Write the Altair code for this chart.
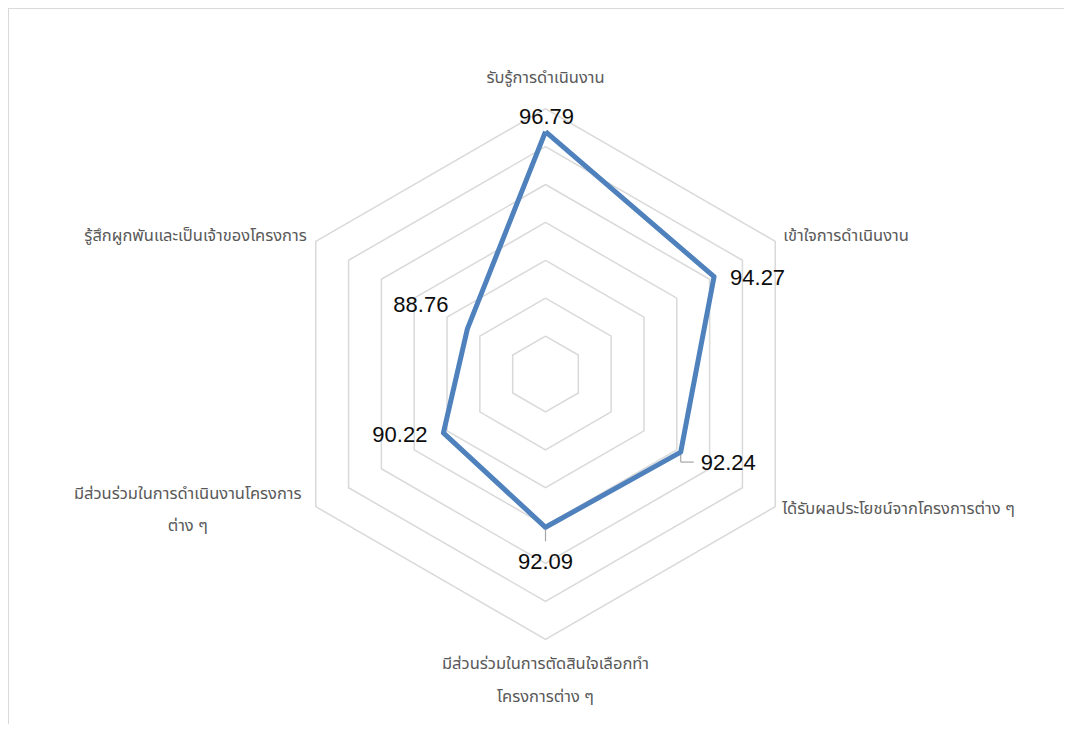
import altair as alt
import pandas as pd

# ---- data ----
categories = [
    "รับรู้การดำเนินงาน",
    "เข้าใจการดำเนินงาน",
    "ได้รับผลประโยชน์จากโครงการต่าง ๆ",
    "มีส่วนร่วมในการตัดสินใจเลือกทำ|โครงการต่าง ๆ",
    "มีส่วนร่วมในการดำเนินงานโครงการ|ต่าง ๆ",
    "รู้สึกผูกพันและเป็นเจ้าของโครงการ",
]
values = [96.79, 94.27, 92.24, 92.09, 90.22, 88.76]
value_labels = ["96.79", "94.27", "92.24", "92.09", "90.22", "88.76"]
axis_min = 84
axis_max = 98
ring_levels = [86, 88, 90, 92, 94, 96, 98]

# ---- layout ----
W, H = 1056, 716
PX = 18.95            # pixels per value unit
CX, CY = 537.5, 366.0  # centre of the radar inside the plot area
xdom = [-CX / PX, (W - CX) / PX]
ydom = [-(H - CY) / PX, CY / PX]

n = len(categories)
THAI = "Noto Sans Thai, Tahoma, Leelawadee UI, Noto Sans, DejaVu Sans, sans-serif"
NUM = "Liberation Sans, Arial, sans-serif"

series = pd.DataFrame({
    "idx": list(range(n)) + [n],
    "value": values + [values[0]],
    "label": value_labels + [value_labels[0]],
})
cats = pd.DataFrame({"idx": list(range(n)), "category": categories})
rings = pd.DataFrame([{"level": l, "k": k} for l in ring_levels for k in range(n + 1)])

xs = alt.Scale(domain=xdom, nice=False, zero=False)
ys = alt.Scale(domain=ydom, nice=False, zero=False)


def X(f="x"):
    return alt.X(f"{f}:Q", scale=xs, axis=None)


def Y(f="y"):
    return alt.Y(f"{f}:Q", scale=ys, axis=None)


ang = f"datum.idx * 2 * PI / {n}"

base_series = alt.Chart(series).transform_calculate(
    r=f"datum.value - {axis_min}"
).transform_calculate(
    x=f"datum.r * sin({ang})", y=f"datum.r * cos({ang})"
)

ring_layer = alt.Chart(rings).transform_calculate(
    r=f"datum.level - {axis_min}", idx="datum.k"
).transform_calculate(
    x=f"datum.r * sin({ang})", y=f"datum.r * cos({ang})"
).mark_line(color="#D9D9D9", strokeWidth=1.5).encode(
    x=X(), y=Y(), detail="level:N", order="k:Q"
)

line_layer = base_series.mark_line(
    color="#4F81BD", strokeWidth=5, strokeJoin="round"
).encode(x=X(), y=Y(), order="idx:Q")

# leader lines
lead_color = "#A6A6A6"
lead1 = base_series.transform_filter("datum.idx == 3").mark_rule(
    color=lead_color, strokeWidth=1.2, yOffset=2, y2Offset=14
).encode(x=X(), y=Y(), y2=alt.Y2("y:Q"))
lead2a = base_series.transform_filter("datum.idx == 2").mark_rule(
    color=lead_color, strokeWidth=1.2, yOffset=2, y2Offset=10
).encode(x=X(), y=Y(), y2=alt.Y2("y:Q"))
lead2b = base_series.transform_filter("datum.idx == 2").mark_rule(
    color=lead_color, strokeWidth=1.2, yOffset=10, y2Offset=10, x2Offset=13
).encode(x=X(), y=Y(), x2=alt.X2("x:Q"), y2=alt.Y2("y:Q"))

# value labels
val_off = {
    0: ("center", 1, -15),
    1: ("left", 16, 1),
    2: ("left", 20, 11),
    3: ("center", 0, 35),
    4: ("right", -16, 2),
    5: ("right", -19, -24),
}
val_layers = []
for i, (al, dx, dy) in val_off.items():
    val_layers.append(
        base_series.transform_filter(f"datum.idx == {i}").mark_text(
            align=al, baseline="middle", dx=dx, dy=dy, font=NUM,
            fontSize=22, color="#0d0d0d"
        ).encode(x=X(), y=Y(), text="label:N")
    )

# category labels at outer vertices
R = axis_max - axis_min
base_cats = alt.Chart(cats).transform_calculate(
    x=f"{R} * sin({ang})", y=f"{R} * cos({ang})",
    lines="split(datum.category, '|')"
)
cat_off = {
    0: ("center", 0, -31),
    1: ("left", 8, -5),
    2: ("left", 7, 2),
    3: ("center", 0, 25),
    4: ("center", -128, -13),
    5: ("right", -9, -5),
}
cat_layers = []
for i, (al, dx, dy) in cat_off.items():
    cat_layers.append(
        base_cats.transform_filter(f"datum.idx == {i}").mark_text(
            align=al, baseline="middle", dx=dx, dy=dy, font=THAI,
            fontSize=16.5, color="#595959", lineHeight=32.5
        ).encode(x=X(), y=Y(), text="lines:N")
    )

# chart-area border (top and left edges visible)
border_top = alt.Chart(cats).mark_rule(color="#D9D9D9", strokeWidth=1.2).encode(
    x=alt.value(0), x2=alt.value(W), y=alt.value(0)
)
border_left = alt.Chart(cats).mark_rule(color="#D9D9D9", strokeWidth=1.2).encode(
    x=alt.value(0), y=alt.value(0), y2=alt.value(H)
)

chart = alt.layer(
    border_top, border_left, ring_layer, lead1, lead2a, lead2b, line_layer,
    *val_layers, *cat_layers
).properties(
    width=W, height=H, padding=0, autosize=alt.AutoSizeParams(type="none")
).configure_view(stroke=None).configure(background="white")

chart.save("out.html", embed_options={"renderer": "svg", "actions": False})
